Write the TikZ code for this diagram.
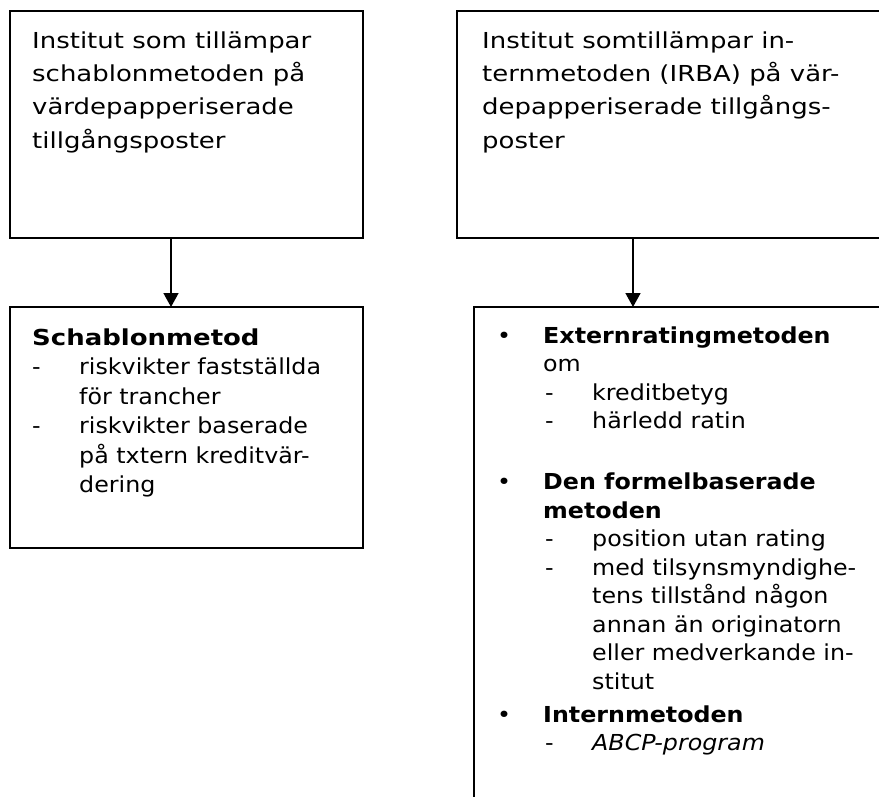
\documentclass[tikz,border=0pt]{standalone}
\usepackage{fontspec}
\setmainfont[FakeStretch=1.08]{DejaVu Sans}
\newfontfamily\ovrefont[FakeStretch=1.18]{DejaVu Sans}
\usetikzlibrary{arrows.meta}

\newcommand{\streck}{\makebox[47pt][l]{-}}
\newcommand{\indrag}{\hspace*{47pt}}
\newcommand{\punkt}{\makebox[46pt][l]{\textbullet}}

\begin{document}
\begin{tikzpicture}[x=1pt,y=-1pt]
            \tikzset{ruta/.style = {draw, line width=1.5pt, anchor=north west, inner sep=0pt, outer sep=0pt}}
            \tikzset{brodtext/.style = {anchor=base west, inner sep=0pt}}
            \tikzset{pil/.style = {-{Triangle[width=15pt,length=14pt]}, line width=1.6pt}}
            \useasboundingbox (0,0) rectangle (879,796);
            \clip (0,0) rectangle (879,796);
            % rutor
            \node[ruta, minimum width=353pt, minimum height=227pt] (schablon) at (10,11) {};
            \node[ruta, minimum width=450pt, minimum height=227pt] (irba) at (457,11) {};
            \node[ruta, minimum width=353pt, minimum height=241pt] (schablonmetod) at (10,307) {};
            \node[ruta, minimum width=450pt, minimum height=520pt] (metoder) at (474,307) {};
            % texter
            \node[brodtext, font=\ovrefont\fontsize{22}{33.4}\selectfont] (schablontext) at (32,48)
                {\parbox[t]{330pt}{Institut som tillämpar\\ schablonmetoden på\\ värdepapperiserade\\ tillgångsposter}};
            \node[brodtext, font=\ovrefont\fontsize{22}{33.4}\selectfont] (irbatext) at (482,48)
                {\parbox[t]{390pt}{Institut somtillämpar in-\\ ternmetoden (IRBA) på vär-\\ depapperiserade tillgångs-\\ poster}};
            \node[brodtext, font=\fontsize{22}{29.5}\selectfont] (schablonlista) at (32,345)
                {\parbox[t]{330pt}{{\ovrefont\bfseries Schablonmetod}\\
                \streck riskvikter fastställda\\
                \indrag för trancher\\
                \streck riskvikter baserade\\
                \indrag på txtern kreditvär-\\
                \indrag dering}};
            \node[brodtext, font=\fontsize{22}{28.5}\selectfont] (metodlista) at (497,343)
                {\parbox[t]{380pt}{\punkt\textbf{Externratingmetoden}\\
                \hspace*{46pt}om\\
                \hspace*{48pt}\streck kreditbetyg\\
                \hspace*{48pt}\streck härledd ratin\\[32.5pt]
                \punkt\textbf{Den formelbaserade}\\
                \hspace*{46pt}\textbf{metoden}\\
                \hspace*{48pt}\streck position utan rating\\
                \hspace*{48pt}\streck med tilsynsmyndighe-\\
                \hspace*{48pt}\indrag tens tillstånd någon\\
                \hspace*{48pt}\indrag annan än originatorn\\
                \hspace*{48pt}\indrag eller medverkande in-\\
                \hspace*{48pt}\indrag stitut\\[4.5pt]
                \punkt\textbf{Internmetoden}\\
                \hspace*{48pt}\streck\textit{ABCP-program}}};
            % pilar
            \coordinate (vx) at (171,0);
            \coordinate (hx) at (633,0);
            \draw[pil] (vx |- schablon.south) -- (vx |- schablonmetod.north);
            \draw[pil] (hx |- irba.south) -- (hx |- metoder.north);
        \end{tikzpicture}
\end{document}
